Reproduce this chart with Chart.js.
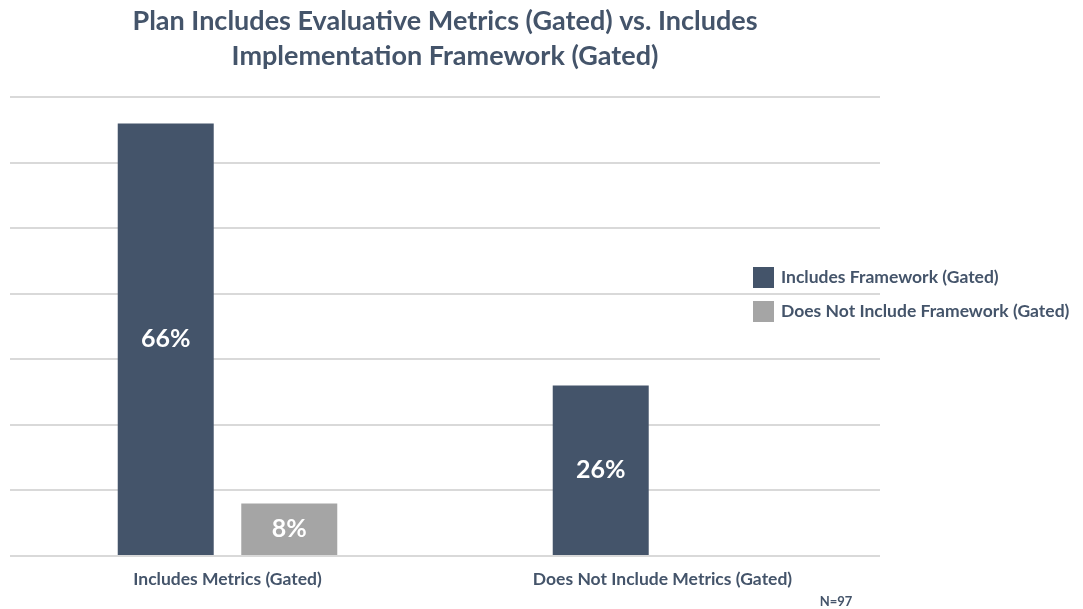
<!DOCTYPE html>
<html>
<head>
<meta charset="utf-8">
<script src="https://cdn.jsdelivr.net/npm/chart.js@4.4.0/dist/chart.umd.min.js"></script>
<style>
  html, body { margin: 0; padding: 0; background: #fff; }
  #wrap { width: 1083px; height: 609px; position: relative; }
</style>
</head>
<body>
<div id="wrap"><canvas id="chart"></canvas></div>
<script>
const categories = ['Includes Metrics (Gated)', 'Does Not Include Metrics (Gated)'];
const seriesNames = ['Includes Framework (Gated)', 'Does Not Include Framework (Gated)'];
const includesFramework = [66, 26];
const notIncludesFramework = [8, null];
const yTicks = [0, 10, 20, 30, 40, 50, 60, 70];
const colors = ['#44546a', '#a5a5a5'];
const textColor = '#44546a';
const FONT = 'Lato, "Open Sans", sans-serif';

// white % labels in the middle of each bar
const barLabels = {
    id: 'barLabels',
    afterDatasetsDraw(chart) {
        const ctx = chart.ctx;
        ctx.save();
        ctx.font = 'bold 25px ' + FONT;
        ctx.fillStyle = '#ffffff';
        ctx.textAlign = 'center';
        ctx.textBaseline = 'middle';
        chart.data.datasets.forEach((ds, i) => {
            chart.getDatasetMeta(i).data.forEach((bar, j) => {
                const v = ds.data[j];
                if (v == null) return;
                ctx.fillText(v + '%', bar.x, (bar.y + bar.base) / 2);
            });
        });
        ctx.restore();
    }
};

// legend to the right, drawn over the gridlines like the original
const sideLegend = {
    id: 'sideLegend',
    afterDraw(chart) {
        const ctx = chart.ctx;
        ctx.save();
        ctx.font = 'bold 17.5px ' + FONT;
        ctx.textBaseline = 'middle';
        ctx.textAlign = 'left';
        const x = 753, y0 = 277, gap = 34;
        chart.data.datasets.forEach((ds, i) => {
            const y = y0 + i * gap;
            ctx.fillStyle = '#ffffff';
            ctx.fillRect(x - 2, y - 13, 330, 26);
            ctx.fillStyle = ds.backgroundColor;
            ctx.fillRect(x, y - 10, 21, 21);
            ctx.fillStyle = textColor;
            ctx.fillText(ds.label, x + 28, y);
        });
        ctx.font = 'bold 13px ' + FONT;
        ctx.textAlign = 'center';
        ctx.fillText('N=97', 836, 602);
        ctx.restore();
    }
};

new Chart(document.getElementById('chart').getContext('2d'), {
    type: 'bar',
    data: {
        labels: categories,
        datasets: [
            { label: seriesNames[0], data: includesFramework, backgroundColor: colors[0] },
            { label: seriesNames[1], data: notIncludesFramework, backgroundColor: colors[1] }
        ]
    },
    options: {
        responsive: true,
        maintainAspectRatio: false,
        animation: false,
        categoryPercentage: 0.568,
        barPercentage: 0.777,
        layout: { padding: { left: 10, right: 203, top: 0, bottom: 14 } },
        scales: {
            x: {
                grid: { display: false },
                border: { display: false },
                ticks: { color: textColor, font: { family: FONT, size: 17.5, weight: 'bold' }, padding: 5 }
            },
            y: {
                min: 0, max: 70,
                afterBuildTicks(axis) { axis.ticks = yTicks.map(v => ({ value: v })); },
                grid: { color: '#d9d9d9', lineWidth: 2, drawTicks: false },
                border: { display: false },
                ticks: { display: false }
            }
        },
        plugins: {
            legend: { display: false },
            tooltip: { enabled: false },
            title: {
                display: true,
                text: ['Plan Includes Evaluative Metrics (Gated) vs. Includes', 'Implementation Framework (Gated)'],
                color: textColor,
                font: { family: FONT, size: 27, weight: 'bold', lineHeight: 1.3 },
                padding: { top: 4, bottom: 23 }
            }
        }
    },
    plugins: [barLabels, sideLegend]
});
</script>
</body>
</html>
